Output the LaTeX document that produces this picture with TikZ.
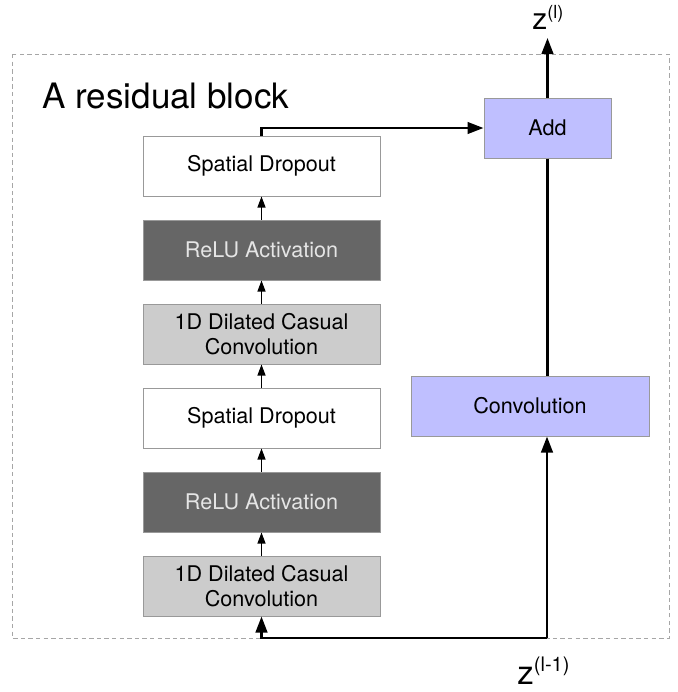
\documentclass[tikz,border=0pt]{standalone}
\usepackage{fontspec}
\setmainfont{TeX Gyre Heros}
\usetikzlibrary{arrows.meta}

\definecolor{lavande}{HTML}{BFBFFF}
\definecolor{grisfonce}{HTML}{666666}
\definecolor{grisclair}{HTML}{CCCCCC}
\definecolor{bordure}{HTML}{999999}

\tikzset{
  bloc/.style={draw=bordure, line width=0.5pt, minimum width=118.5pt, minimum height=30pt,
    inner sep=0pt, align=center, font=\fontsize{10.8}{12.6}\selectfont},
  dropout/.style={bloc, fill=white},
  relu/.style={bloc, fill=grisfonce, text=white!90!black},
  dilatee/.style={bloc, fill=grisclair},
  somme/.style={bloc, fill=lavande},
  petite/.style={line width=0.6pt, -{Triangle[length=5.5pt, width=4pt]}},
  fleche/.style={line width=1.2pt, -{Triangle[length=8pt, width=5.8pt]}},
  trait/.style={line width=1.2pt},
}

\begin{document}
\begin{tikzpicture}[x=0.5pt, y=-0.5pt]
  \useasboundingbox (0,0) rectangle (678,692);

  % Cadre du bloc résiduel
  \draw[gray!70, line width=0.5pt, dash pattern=on 2.2pt off 1.6pt] (12,54) rectangle (669,638);
  \node[anchor=base west, inner sep=0pt, font=\fontsize{17.5}{20}\selectfont] (titre) at (42,108) {A residual block};

  % Branche principale (de bas en haut)
  \node[dilatee] (dil2) at (261.5,586) {1D Dilated Casual\\Convolution};
  \node[relu] (relu2) at (261.5,502) {ReLU Activation};
  \node[dropout] (drop2) at (261.5,418) {Spatial Dropout};
  \node[dilatee] (dil1) at (261.5,334) {1D Dilated Casual\\Convolution};
  \node[relu] (relu1) at (261.5,250) {ReLU Activation};
  \node[dropout] (drop1) at (261.5,166) {Spatial Dropout};

  % Branche de raccourci
  \node[somme, minimum width=63.5pt] (add) at (547.5,128) {Add};
  \node[somme, minimum width=119pt] (conv) at (530,406) {Convolution};

  % Entrée et sortie
  \coordinate (entree) at (547,638);
  \coordinate (sortie) at (547.5,38);
  \node[anchor=base west, inner sep=0pt, font=\fontsize{15}{18}\selectfont] (zl) at (532,29)
    {z\raisebox{5.5pt}{\fontsize{9}{9}\selectfont(l)}};
  \node[anchor=base west, inner sep=0pt, font=\fontsize{16.5}{19}\selectfont] (zlm) at (517,684)
    {z\raisebox{6.5pt}{\fontsize{10}{10}\selectfont(l-1)}};

  % Flèches entre les couches
  \draw[petite] (dil2) -- (relu2);
  \draw[petite] (relu2) -- (drop2);
  \draw[petite] (drop2) -- (dil1);
  \draw[petite] (dil1) -- (relu1);
  \draw[petite] (relu1) -- (drop1);

  % Connexions épaisses
  \draw[fleche] (drop1.north) |- (add.west);
  \draw[fleche] (add.north) -- (sortie);
  \draw[trait] (add.south) -- (add.south |- conv.north);
  \draw[fleche] (entree) -- (entree |- conv.south);
  \draw[fleche] (entree) -| (dil2.south);
\end{tikzpicture}
\end{document}
